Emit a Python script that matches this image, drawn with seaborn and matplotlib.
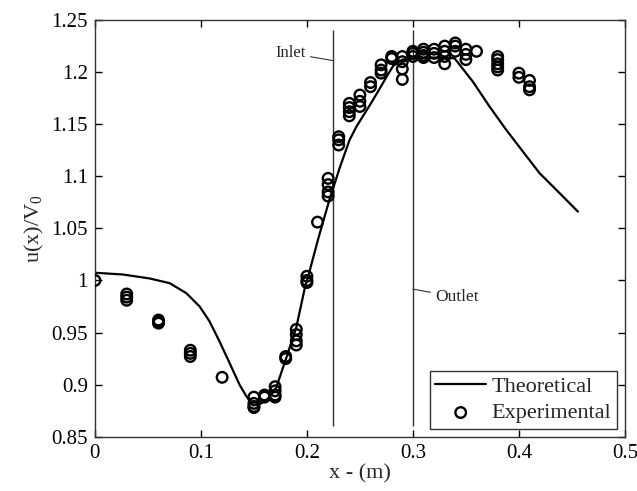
import numpy as np
import pandas as pd
import matplotlib
matplotlib.use("Agg")
import matplotlib.pyplot as plt
from matplotlib.ticker import FuncFormatter
import seaborn as sns

# Theoretical curve
theo_x = [0.0, 0.0264, 0.0516, 0.0705, 0.0862, 0.0988, 0.1082, 0.1176, 0.1271, 0.1365, 0.1428,
          0.149, 0.155, 0.162, 0.171, 0.181, 0.190, 0.1985, 0.2012, 0.2104, 0.2214, 0.2309,
          0.2403, 0.2469, 0.2592, 0.2686, 0.2760, 0.2814, 0.29, 0.30, 0.32, 0.3393, 0.3566,
          0.3724, 0.3881, 0.4038, 0.4195, 0.4384, 0.4557]
theo_y = [1.0074, 1.0057, 1.0019, 0.9974, 0.9878, 0.975, 0.9606, 0.9414, 0.9206, 0.8998, 0.889,
          0.880, 0.881, 0.885, 0.897, 0.927, 0.955, 0.995, 1.0038, 1.039, 1.078, 1.108,
          1.135, 1.148, 1.168, 1.184, 1.197, 1.206, 1.212, 1.213, 1.214, 1.2133, 1.1908,
          1.1668, 1.1445, 1.1237, 1.103, 1.0838, 1.0661]

# Experimental points
exp_x = ([0.0] + [0.03]*3 + [0.06]*3 + [0.09]*3 + [0.12] + [0.15]*4 + [0.16]*2 + [0.17]*4 +
         [0.18]*2 + [0.19]*4 + [0.20]*3 + [0.21] + [0.22]*4 + [0.23]*3 + [0.24]*4 + [0.25]*3 +
         [0.26]*2 + [0.27]*3 + [0.28]*2 + [0.29]*4 + [0.30]*3 + [0.31]*4 + [0.32]*3 + [0.33]*4 +
         [0.34]*3 + [0.35]*3 + [0.36] + [0.38]*5 + [0.40]*2 + [0.41]*3)
exp_y = ([1.000] + [0.987, 0.984, 0.981] + [0.962, 0.960, 0.959] + [0.933, 0.930, 0.927] + [0.907] +
         [0.888, 0.882, 0.879, 0.878] + [0.890, 0.888] + [0.898, 0.894, 0.890, 0.888] +
         [0.927, 0.925] + [0.953, 0.948, 0.942, 0.938] + [1.004, 1.000, 0.998] + [1.056] +
         [1.098, 1.092, 1.085, 1.081] + [1.138, 1.135, 1.130] + [1.170, 1.166, 1.162, 1.158] +
         [1.178, 1.172, 1.167] + [1.190, 1.186] + [1.207, 1.202, 1.199] + [1.215, 1.213] +
         [1.215, 1.210, 1.203, 1.193] + [1.220, 1.218, 1.215] + [1.222, 1.219, 1.216, 1.214] +
         [1.222, 1.218, 1.214] + [1.225, 1.220, 1.215, 1.208] + [1.228, 1.225, 1.220] +
         [1.222, 1.217, 1.212] + [1.220] + [1.215, 1.212, 1.208, 1.205, 1.202] + [1.199, 1.195] +
         [1.192, 1.186, 1.183])

xticks = [0, 0.1, 0.2, 0.3, 0.4, 0.5]
yticks = [0.85, 0.9, 0.95, 1.0, 1.05, 1.1, 1.15, 1.2, 1.25]

sns.set_style("ticks")
plt.rcParams['font.family'] = ['Liberation Serif', 'DejaVu Serif']
plt.rcParams['mathtext.fontset'] = 'custom'
plt.rcParams['mathtext.rm'] = 'Liberation Serif'
plt.rcParams['mathtext.it'] = 'Liberation Serif'

fig = plt.figure(figsize=(6.37, 4.91), dpi=100)
ax = fig.add_axes([0.149, 0.1106, 0.832, 0.8486])

theo = pd.DataFrame({"x": theo_x, "y": theo_y})
exp = pd.DataFrame({"x": exp_x, "y": exp_y})

sns.lineplot(data=theo, x="x", y="y", ax=ax, color="black", lw=1.6, label="Theoretical",
             sort=False)
sns.scatterplot(data=exp, x="x", y="y", ax=ax, marker="o", s=58, facecolors="none",
                edgecolor="black", linewidth=1.7, label="Experimental", zorder=3)

ax.vlines([0.225, 0.3], 0.86, 1.24, colors="#333333", lw=1.0, zorder=1)
ax.annotate("Inlet", xy=(0.225, 1.211), xytext=(0.199, 1.218), fontsize=12,
            ha="right", va="center",
            arrowprops=dict(arrowstyle="-", color="#333333", lw=0.8, shrinkA=1, shrinkB=0))
ax.annotate("Outlet", xy=(0.3, 0.9917), xytext=(0.321, 0.984), fontsize=12.5,
            ha="left", va="center",
            arrowprops=dict(arrowstyle="-", color="#333333", lw=0.8, shrinkA=1, shrinkB=0))

ax.set_xlim(0, 0.5)
ax.set_ylim(0.85, 1.25)
ax.set_xticks(xticks)
ax.set_yticks(yticks)
ax.xaxis.set_major_formatter(FuncFormatter(lambda v, p: f"{v:g}"))
ax.yaxis.set_major_formatter(FuncFormatter(lambda v, p: f"{v:g}"))
ax.tick_params(direction="in", top=True, right=True, length=5, width=1,
               labelsize=15, colors="black", pad=5)
for s in ax.spines.values():
    s.set_linewidth(1.0)
    s.set_color("#333333")
    s.set_visible(True)

ax.set_xlabel("x - (m)", fontsize=16, labelpad=1)
ax.set_ylabel("u(x)/V$_0$", fontsize=16, labelpad=4)

leg = ax.legend(loc="lower right", fontsize=16, frameon=True, fancybox=False,
                edgecolor="#333333", framealpha=1, borderpad=0.25, handlelength=2.3,
                handletextpad=0.25, labelspacing=0.25, borderaxespad=0.35)
leg.get_frame().set_linewidth(1.0)

fig.savefig("out.png", dpi=100)
